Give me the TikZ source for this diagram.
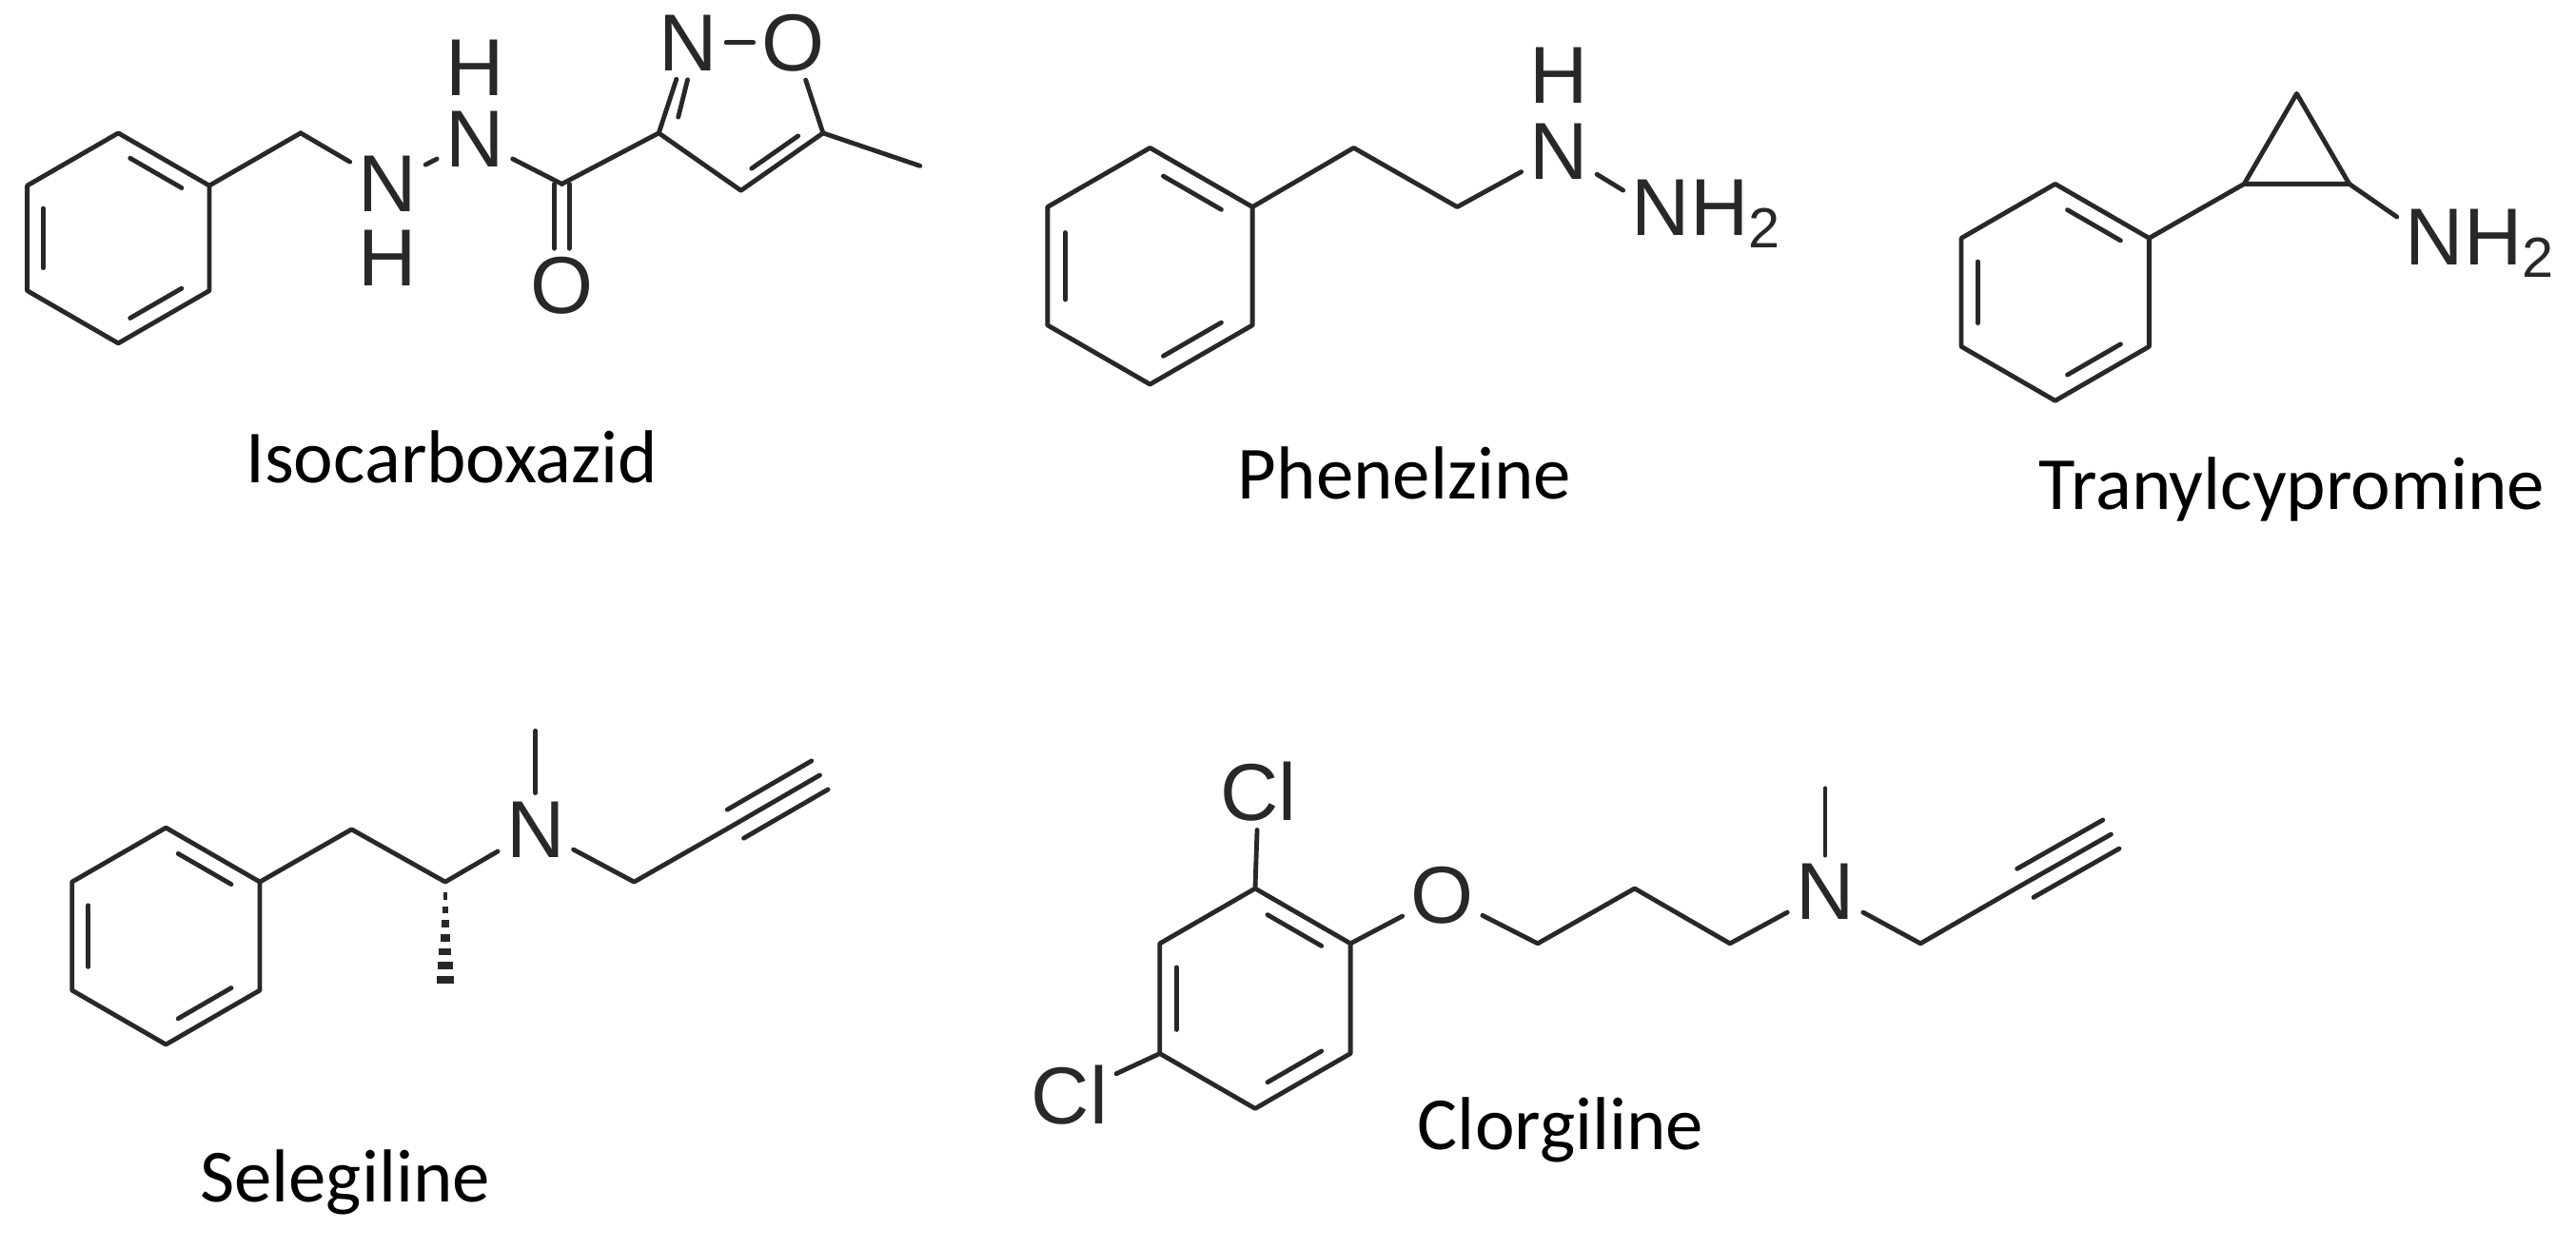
\documentclass[tikz,border=0pt]{standalone}
\usepackage{fontspec}
\setmainfont{Carlito}
\newfontfamily\arialf{Liberation Sans}
\usetikzlibrary{calc}
\definecolor{ink}{RGB}{40,40,40}
\tikzset{
  bond/.style={line width=0.8pt, draw=ink, line cap=round},
  atom/.style={font=\arialf\fontsize{14}{16}\selectfont, inner sep=1.3pt, text=ink},
  hatom/.style={font=\arialf\fontsize{14}{16}\selectfont, inner sep=0pt, text=ink},
  molname/.style={font=\fontsize{13}{15}\selectfont, text=black, inner sep=0pt}
}
\newcommand\hexring[4]{%
  \path (#2,#3) coordinate (#1c)
    +(0,-#4) coordinate (#1t)
    +({0.866*#4},{-0.5*#4}) coordinate (#1ur)
    +({0.866*#4},{0.5*#4}) coordinate (#1lr)
    +(0,#4) coordinate (#1bo)
    +({-0.866*#4},{0.5*#4}) coordinate (#1ll)
    +({-0.866*#4},{-0.5*#4}) coordinate (#1ul);
  \draw[bond,line join=round] (#1t)--(#1ur)--(#1lr)--(#1bo)--(#1ll)--(#1ul)--cycle;
  \dbl{#1c}{#1t}{#1ur}\dbl{#1c}{#1ul}{#1ll}\dbl{#1c}{#1bo}{#1lr}}
\newcommand\dbl[3]{\draw[bond] ($(#1)!0.8!(#2)!0.13!(#3)$) -- ($(#1)!0.8!(#3)!0.13!(#2)$);}
\begin{document}
\begin{tikzpicture}[x=0.1mm,y=-0.1mm]
\useasboundingbox (0,0) rectangle (1568,760);
% ---------- Isocarboxazid
\hexring{A}{72}{145}{64}
\coordinate (a1) at (183,81);
\node[atom] (an1) at (236,112) {N};
\node[hatom] (ah1) at (236,157) {H};
\node[atom] (an2) at (289,85) {N};
\node[hatom] (ah2) at (289,41) {H};
\coordinate (ac) at (342,112);
\node[atom] (ao) at (342,174) {O};
\coordinate (ac3) at (401,81);
\node[atom] (ain) at (419,26) {N};
\node[atom] (aio) at (483,26) {O};
\coordinate (ac5) at (501,81);
\coordinate (ac4) at (451,116);
\coordinate (ame) at (560,101);
\coordinate (aiC) at (451,65);
\draw[bond] (Aur)--(a1)--(an1);
\draw[bond] (an1)--(an2);
\draw[bond] (an2)--(ac)--(ac3);
\draw[bond] ($(ac)+(-4.5,0)$) -- ($(ao.north)+(-4.5,0)$);
\draw[bond] ($(ac)+(4.5,0)$) -- ($(ao.north)+(4.5,0)$);
\draw[bond] (ac3)--(ain);
\draw[bond] (ain)--(aio);
\draw[bond] (aio)--(ac5);
\draw[bond,line join=round] (ac5)--(ac4)--(ac3);
\draw[bond] (ac5)--(ame);
\draw[bond] ($(aiC)!0.78!(ac3)!0.12!(ain)$) -- ($(aiC)!0.78!(ain)!0.3!(ac3)$);
\dbl{aiC}{ac4}{ac5}
\node[molname] (nA) at (275,278) {Isocarboxazid};
% ---------- Phenelzine
\hexring{P}{700}{162}{72}
\coordinate (pc1) at (824,90);
\coordinate (pc2) at (887,126);
\node[atom] (pn) at (949,92) {N};
\node[hatom] (ph) at (949,46) {H};
\node[atom] (pn2) at (1011,130) {N\rlap{H\textsubscript{2}}};
\draw[bond,line join=round] (Pur)--(pc1)--(pc2)--(pn);
\draw[bond] (pn)--(pn2);
\node[molname] (nP) at (855,288) {Phenelzine};
% ---------- Tranylcypromine
\hexring{T}{1251}{178}{66}
\coordinate (tc1) at (1366,112);
\coordinate (tc2) at (1430,112);
\coordinate (tap) at (1398,57);
\node[atom] (tn) at (1482,148) {N\rlap{H\textsubscript{2}}};
\draw[bond] (Tur)--(tc1);
\draw[bond,line join=round] (tc1)--(tc2)--(tap)--cycle;
\draw[bond] (tc2)--(tn);
\node[molname] (nT) at (1395,298) {Tranylcypromine};
% ---------- Selegiline
\hexring{S}{101}{570}{66}
\coordinate (sc1) at (214,505);
\coordinate (sc2) at (271,537);
\node[atom] (sn) at (326,505) {N};
\coordinate (sme) at (326,445);
\coordinate (sc3) at (386,537);
\coordinate (sc4) at (442,505);
\coordinate (send) at (499,472);
\draw[bond,line join=round] (Sur)--(sc1)--(sc2)--(sn);
\draw[bond] (sn)--(sme);
\draw[bond,line join=round] (sn)--(sc3)--(sc4)--(send);
\draw[bond] ($(sc4)!0.1!(send)+(5,8.7)$) -- ($(send)+(5,8.7)$);
\draw[bond] ($(sc4)!0.1!(send)+(-5,-8.7)$) -- ($(send)+(-5,-8.7)$);
\foreach \i in {1,...,7}{
  \draw[line width=1.3pt,draw=ink] ($(sc2)+({-0.7*\i-0.3},{8.5*\i})$) -- ($(sc2)+({0.7*\i+0.3},{8.5*\i})$);
}
\node[molname] (nS) at (210,720) {Selegiline};
% ---------- Clorgiline
\hexring{C}{764}{608}{67}
\node[atom] (clt) at (766,482) {Cl};
\node[atom] (cll) at (651,667) {Cl};
\node[atom] (co) at (878,545) {O};
\coordinate (cc1) at (936,574.5);
\coordinate (cc2) at (995,541);
\coordinate (cc3) at (1053,574.5);
\node[atom] (cn) at (1111,543) {N};
\coordinate (cme) at (1111,480);
\coordinate (cc4) at (1169,574.5);
\coordinate (cc5) at (1227,541);
\coordinate (cend) at (1285,508);
\draw[bond] (Ct)--(clt);
\draw[bond] (Cll)--(cll);
\draw[bond] (Cur)--(co);
\draw[bond,line join=round] (co)--(cc1)--(cc2)--(cc3)--(cn);
\draw[bond] (cn)--(cme);
\draw[bond,line join=round] (cn)--(cc4)--(cc5)--(cend);
\draw[bond] ($(cc5)!0.1!(cend)+(5,8.7)$) -- ($(cend)+(5,8.7)$);
\draw[bond] ($(cc5)!0.1!(cend)+(-5,-8.7)$) -- ($(cend)+(-5,-8.7)$);
\node[molname] (nC) at (950,688) {Clorgiline};
\end{tikzpicture}
\end{document}
